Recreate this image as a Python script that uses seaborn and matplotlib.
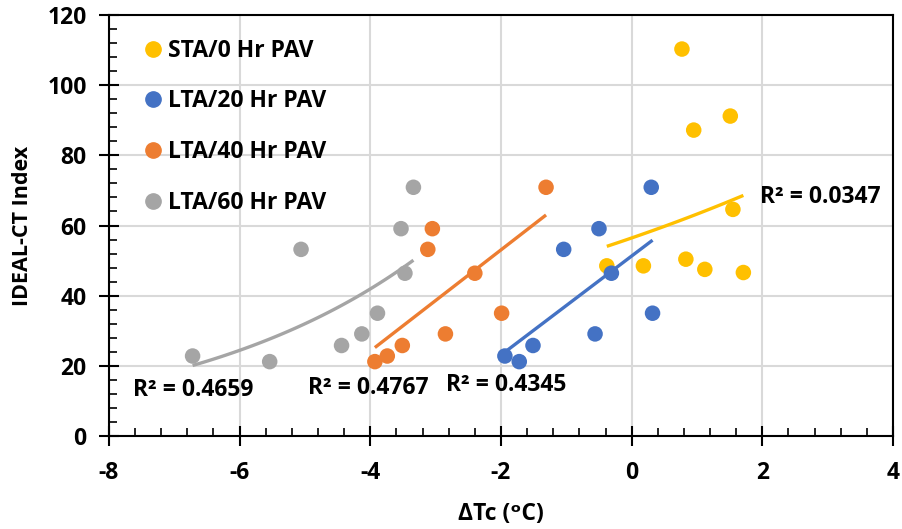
import numpy as np
import pandas as pd
import matplotlib
matplotlib.use("Agg")
import matplotlib.pyplot as plt
from matplotlib.ticker import MultipleLocator
from matplotlib.lines import Line2D
import seaborn as sns

# -------------------- Data --------------------
groups = ["STA/0 Hr PAV", "LTA/20 Hr PAV", "LTA/40 Hr PAV", "LTA/60 Hr PAV"]
colors = ["#FFC000", "#4472C4", "#ED7D31", "#A5A5A5"]

sta0_x = [0.77, 0.95, 1.51, 1.55, -0.38, 0.18, 0.83, 1.12, 1.71]
sta0_y = [110.3, 87.2, 91.2, 64.6, 48.5, 48.5, 50.4, 47.5, 46.6]

lta20_x = [0.30, -0.50, -1.04, -0.31, 0.32, -0.56, -1.51, -1.94, -1.72]
lta40_x = [-1.31, -3.05, -3.12, -2.40, -1.99, -2.85, -3.51, -3.74, -3.93]
lta60_x = [-3.34, -3.53, -5.06, -3.47, -3.89, -4.13, -4.44, -6.72, -5.54]
lta_y = [70.9, 59.1, 53.2, 46.4, 35.0, 29.1, 25.8, 22.8, 21.2]

# Excel-style trendlines: exponential for 0 and 60 Hr, linear for 20 and 40 Hr
fit_kind = ["exp", "lin", "lin", "exp"]
r2_labels = ["R² = 0.0347", "R² = 0.4345", "R² = 0.4767", "R² = 0.4659"]
r2_pos = [(1.97, 68.1), (-2.84, 14.5), (-4.96, 13.6), (-7.63, 13.1)]

xs = [sta0_x, lta20_x, lta40_x, lta60_x]
ys = [sta0_y, lta_y, lta_y, lta_y]

df = pd.DataFrame({
    "dTc": np.concatenate(xs),
    "index": np.concatenate(ys),
    "group": np.repeat(groups, [len(x) for x in xs]),
})

# -------------------- Plot --------------------
sns.set_theme(style="white")
plt.rcParams["font.family"] = ["Open Sans", "DejaVu Sans"]
plt.rcParams["font.weight"] = "bold"
plt.rcParams["axes.unicode_minus"] = False
for key in ["text.color", "axes.labelcolor", "xtick.color", "ytick.color"]:
    plt.rcParams[key] = "black"

FS = 16.5

fig = plt.figure(figsize=(9.02, 5.29), dpi=100)
ax = fig.add_axes([0.1208, 0.1758, 0.8692, 0.7958])

ax.grid(True, which="major", color="#d9d9d9", lw=1.5, zorder=0)
ax.set_axisbelow(True)

# trendlines
for x, y, kind, c in zip(xs, ys, fit_kind, colors):
    x = np.asarray(x)
    y = np.asarray(y)
    xx = np.linspace(x.min(), x.max(), 100)
    if kind == "exp":
        b, a = np.polyfit(x, np.log(y), 1)
        yy = np.exp(a + b * xx)
    else:
        m, k = np.polyfit(x, y, 1)
        yy = m * xx + k
    ax.plot(xx, yy, color=c, lw=2.4, solid_capstyle="butt", zorder=2)

sns.scatterplot(data=df, x="dTc", y="index", hue="group", hue_order=groups,
                palette=colors, s=125, linewidth=0, ax=ax, zorder=3, legend=False)

for lbl, (tx, ty) in zip(r2_labels, r2_pos):
    ax.text(tx, ty, lbl, fontsize=FS, fontweight="bold", va="center", ha="left")

ax.set_xlim(-8, 4)
ax.set_ylim(0, 120)
ax.xaxis.set_major_locator(MultipleLocator(2))
ax.xaxis.set_minor_locator(MultipleLocator(0.4))
ax.yaxis.set_major_locator(MultipleLocator(20))
ax.yaxis.set_minor_locator(MultipleLocator(4))

for sp in ax.spines.values():
    sp.set_color("black")
    sp.set_linewidth(1.5)

ax.tick_params(which="major", direction="inout", length=14, width=1.5,
               color="black", labelsize=FS)
ax.tick_params(which="minor", direction="in", length=6, width=1.2, color="black")
ax.tick_params(axis="x", which="major", pad=11)
ax.tick_params(axis="y", which="major", pad=9)
ax.tick_params(bottom=True, left=True, top=False, right=False, which="both")
for t in ax.get_xticklabels() + ax.get_yticklabels():
    t.set_fontweight("bold")

ax.set_xlabel("ΔTc (ᵒC)", fontsize=FS, fontweight="bold", labelpad=12)
ax.set_ylabel("IDEAL-CT Index", fontsize=FS - 1, fontweight="bold", labelpad=10)

handles = [Line2D([], [], marker="o", ls="", color=c, markersize=11) for c in colors]
ax.legend(handles, groups, loc="upper left", frameon=False,
          prop={"size": FS, "weight": "bold"}, labelspacing=1.17,
          handlelength=1.0, handletextpad=0.15, borderaxespad=0.5,
          bbox_to_anchor=(0.015, 0.993))

fig.savefig("out.png", dpi=100)
